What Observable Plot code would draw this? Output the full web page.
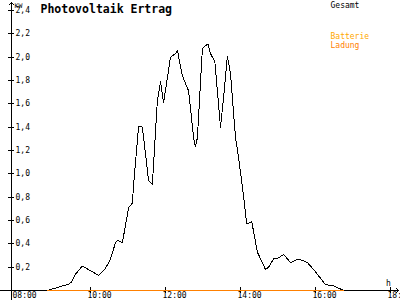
<!DOCTYPE html>
<html>
<head>
<meta charset="utf-8">
<script src="https://cdn.jsdelivr.net/npm/d3@7"></script>
<script src="https://cdn.jsdelivr.net/npm/@observablehq/plot@0.6"></script>
<style>
html, body { margin: 0; padding: 0; background: white; overflow: hidden; }
</style>
</head>
<body>
<div id="chart"></div>
<script>
// ---- data ----
const titleText = "Photovoltaik Ertrag";
const yUnit = "KW";
const xUnit = "h";
const legendLabels = ["Gesamt", "Batterie", "Ladung"];
const legendColors = ["#000000", "#FFA800", "#FF8000"];
const xTickLabels = ["08:00", "10:00", "12:00", "14:00", "16:00", "18:00"];
const yTickValues = [0.2, 0.4, 0.6, 0.8, 1.0, 1.2, 1.4, 1.6, 1.8, 2.0, 2.2, 2.4];
const xDomain = ["08:00", "18:00"];
const yDomain = [0, 2.4];

const pvTimes = ["08:51","09:10","09:28","09:36","09:47","10:00","10:13","10:24","10:32","10:40",
  "10:44","10:51","11:01","11:07","11:09","11:17","11:23","11:33","11:39","11:47",
  "11:52","11:57","12:08","12:16","12:19","12:27","12:37","12:45","12:48","12:51",
  "12:59","13:04","13:08","13:12","13:19","13:28","13:33","13:39","13:44","13:52",
  "13:57","14:05","14:10","14:18","14:27","14:40","14:45","14:53","15:01","15:09",
  "15:20","15:31","15:39","15:47","16:00","16:16","16:29","16:45"];
const pvKW = [0,0.03,0.06,0.14,0.21,0.17,0.13,0.19,0.27,0.41,
  0.43,0.41,0.71,0.75,0.91,1.41,1.40,0.94,0.91,1.63,
  1.79,1.61,2.00,2.03,2.06,1.84,1.71,1.31,1.23,1.31,
  2.07,2.10,2.11,2.03,1.96,1.40,1.66,2.01,1.86,1.31,
  1.14,0.80,0.57,0.59,0.33,0.18,0.20,0.27,0.28,0.31,
  0.24,0.265,0.26,0.24,0.16,0.05,0.04,0];

const ladungTimes = ["08:51", "16:45"];
const ladungKW = [0, 0];

// ---- helpers ----
const hours = s => { const [h, m] = s.split(":").map(Number); return h + m / 60; };
const fmtComma = v => v.toFixed(1).replace(".", ",");

const pv = pvTimes.map((t, i) => ({t: hours(t), kw: pvKW[i]}));
const ladung = ladungTimes.map((t, i) => ({t: hours(t), kw: ladungKW[i]}));
const xTicks = xTickLabels.map(s => ({t: hours(s), label: s}));
const x0 = hours(xDomain[0]), x1 = hours(xDomain[1]);

const font = "'DejaVu Sans Mono', monospace";

const chart = Plot.plot({
  width: 400,
  height: 300,
  marginLeft: 11,
  marginRight: 10,
  marginTop: 10,
  marginBottom: 10,
  x: {domain: [x0, x1], range: [15, 390], axis: null},
  y: {domain: yDomain, axis: null},
  style: {fontFamily: font, fontSize: "8px", background: "white", color: "black", overflow: "visible"},
  marks: [
    // x axis line with arrow
    Plot.arrow([0], {x1: x0, x2: x1, y1: 0, y2: 0, insetStart: -15, insetEnd: -8,
      headLength: 4, headAngle: 90, stroke: "black", strokeWidth: 1, shapeRendering: "crispEdges"}),
    // y axis line with arrow
    Plot.arrow([0], {x1: x0, x2: x0, y1: 0, y2: yDomain[1], dx: -4, insetStart: -10, insetEnd: -8,
      headLength: 4, headAngle: 90, stroke: "black", strokeWidth: 1, shapeRendering: "crispEdges"}),
    // y ticks
    Plot.ruleY(yTickValues, {y: d => d, x1: x0, x2: x0, dx: -4, insetLeft: -3, insetRight: -3,
      stroke: "black", shapeRendering: "crispEdges"}),
    Plot.text(yTickValues, {y: d => d, x: x0, text: d => fmtComma(d), textAnchor: "start", dx: 0,
      fill: "black", fontSize: 8}),
    // x ticks
    Plot.ruleX(xTicks.filter(d => d.t > x0), {x: "t", y1: 0, y2: 0, insetTop: -3, insetBottom: -3,
      stroke: "black", shapeRendering: "crispEdges"}),
    Plot.text(xTicks, {x: "t", y: 0, text: "label", textAnchor: "start", lineAnchor: "top",
      dx: -3, dy: 2, fill: "black", fontSize: 8}),
    // data
    Plot.line(pv, {x: "t", y: "kw", stroke: legendColors[0], strokeWidth: 1, shapeRendering: "crispEdges"}),
    Plot.line(ladung, {x: "t", y: "kw", stroke: legendColors[2], strokeWidth: 1, shapeRendering: "crispEdges"}),
    // unit labels
    Plot.text([yUnit], {x: x0, y: yDomain[1], text: d => d, textAnchor: "start", lineAnchor: "bottom",
      dx: -1, dy: -3, fontSize: 6.5, fill: "black"}),
    Plot.text([xUnit], {x: x1, y: 0, text: d => d, textAnchor: "middle", lineAnchor: "bottom",
      dx: -2, dy: -5, fontSize: 8, fill: "black"}),
    // title
    Plot.text([titleText], {frameAnchor: "top-left", text: d => d, textAnchor: "start", lineAnchor: "bottom",
      dx: 29, dy: 2, fontSize: 11.5, fontWeight: "bold", fill: "black"}),
    // legend
    Plot.text([legendLabels[0]], {frameAnchor: "top-right", text: d => d, textAnchor: "start", lineAnchor: "bottom",
      dx: -60, dy: -3, fontSize: 8, fill: legendColors[0]}),
    Plot.text([legendLabels[1]], {frameAnchor: "top-right", text: d => d, textAnchor: "start", lineAnchor: "bottom",
      dx: -60, dy: 28, fontSize: 8, fill: legendColors[1]}),
    Plot.text([legendLabels[2]], {frameAnchor: "top-right", text: d => d, textAnchor: "start", lineAnchor: "bottom",
      dx: -60, dy: 37, fontSize: 8, fill: legendColors[2]})
  ]
});
document.getElementById("chart").appendChild(chart);
</script>
</body>
</html>
